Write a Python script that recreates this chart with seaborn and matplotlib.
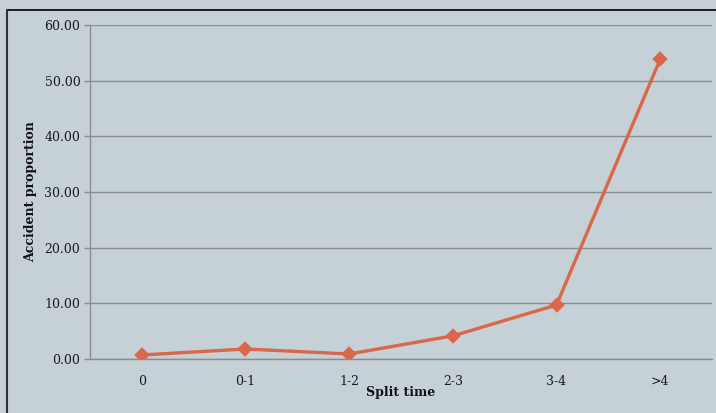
import matplotlib
matplotlib.use("Agg")
import matplotlib.pyplot as plt
from matplotlib.lines import Line2D
import seaborn as sns
import pandas as pd

# Accident proportion by split time
split_time = ["0", "0-1", "1-2", "2-3", "3-4", ">4"]
accident_proportion = [0.72, 1.80, 0.90, 4.15, 9.70, 53.85]
y_ticks = [0, 10, 20, 30, 40, 50, 60]

bg = "#C5D1D7"
line_color = "#D9674A"
grid_color = "#8C8C8C"

sns.set_theme(style="white")
plt.rcParams["font.family"] = ["DejaVu Serif"]

df = pd.DataFrame({"Split time": split_time, "Accident proportion": accident_proportion})

fig = plt.figure(figsize=(7.16, 4.13), dpi=100, facecolor=bg)
ax = fig.add_axes([90 / 716, 1 - 359 / 413, 622 / 716, 334 / 413])
ax.set_facecolor(bg)

sns.pointplot(data=df, x="Split time", y="Accident proportion", order=split_time,
              color=line_color, markers="D", markersize=6, linewidth=2.4, ax=ax)

ax.set_xlim(-0.5, len(split_time) - 0.5)
ax.set_ylim(0, 60)
ax.set_yticks(y_ticks)
ax.set_yticklabels([f"{v:.2f}" for v in y_ticks])
ax.yaxis.grid(True, color=grid_color, linewidth=1.0)
ax.set_axisbelow(True)

for side in ["top", "right"]:
    ax.spines[side].set_visible(False)
for side in ["left", "bottom"]:
    ax.spines[side].set_color(grid_color)
    ax.spines[side].set_linewidth(1.0)

ax.tick_params(axis="y", which="both", left=True, length=4, width=1.0, color=grid_color,
               labelsize=9, labelcolor="#1a1a1a", pad=3)
ax.tick_params(axis="x", bottom=False, labelsize=9, labelcolor="#1a1a1a", pad=5.5)

ax.set_xlabel("Split time", fontsize=9, fontweight="bold", color="#111111", labelpad=-1.5)
ax.set_ylabel("Accident proportion", fontsize=9, fontweight="bold", color="#111111", labelpad=5)

# frame lines along the top and left of the figure
fig.add_artist(Line2D([7 / 716, 1], [1 - 10 / 413, 1 - 10 / 413], transform=fig.transFigure,
                      color="black", linewidth=1.2))
fig.add_artist(Line2D([7 / 716, 7 / 716], [0, 1 - 10 / 413], transform=fig.transFigure,
                      color="#333333", linewidth=1.5))

fig.savefig("out.png", dpi=100, facecolor=bg)
